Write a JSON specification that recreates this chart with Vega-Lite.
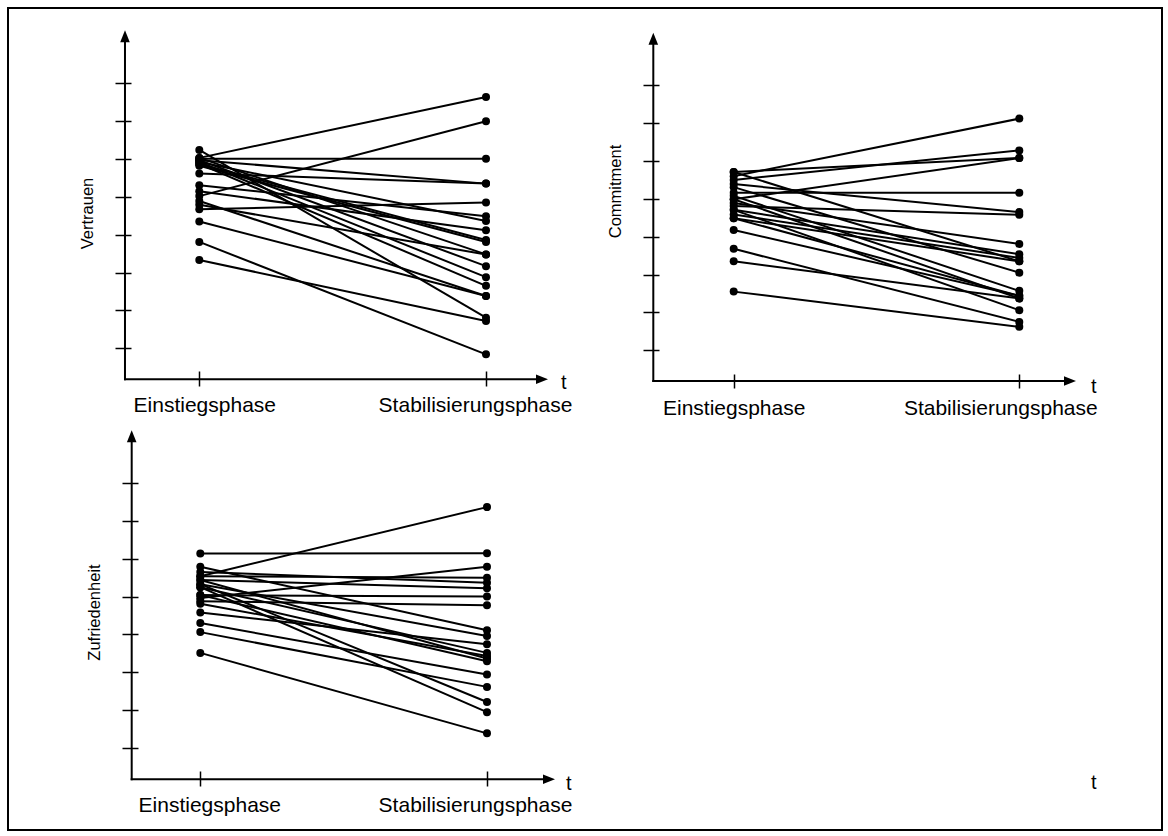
{
  "$schema": "https://vega.github.io/schema/vega-lite/v6.json",
  "padding": 6,
  "background": "white",
  "config": {"view": {"stroke": null}, "font": "Liberation Sans"},
  "datasets": {
    "vertrauen": [
      {"id":1,"phase":"Einstiegsphase","t":1,"value":6.03},{"id":1,"phase":"Stabilisierungsphase","t":2,"value":7.64},
      {"id":2,"phase":"Einstiegsphase","t":1,"value":5.02},{"id":2,"phase":"Stabilisierungsphase","t":2,"value":7.00},
      {"id":3,"phase":"Einstiegsphase","t":1,"value":6.01},{"id":3,"phase":"Stabilisierungsphase","t":2,"value":6.01},
      {"id":4,"phase":"Einstiegsphase","t":1,"value":5.97},{"id":4,"phase":"Stabilisierungsphase","t":2,"value":5.35},
      {"id":5,"phase":"Einstiegsphase","t":1,"value":5.62},{"id":5,"phase":"Stabilisierungsphase","t":2,"value":5.35},
      {"id":6,"phase":"Einstiegsphase","t":1,"value":4.67},{"id":6,"phase":"Stabilisierungsphase","t":2,"value":4.85},
      {"id":7,"phase":"Einstiegsphase","t":1,"value":5.31},{"id":7,"phase":"Stabilisierungsphase","t":2,"value":4.49},
      {"id":8,"phase":"Einstiegsphase","t":1,"value":5.92},{"id":8,"phase":"Stabilisierungsphase","t":2,"value":4.36},
      {"id":9,"phase":"Einstiegsphase","t":1,"value":5.15},{"id":9,"phase":"Stabilisierungsphase","t":2,"value":4.12},
      {"id":10,"phase":"Einstiegsphase","t":1,"value":5.87},{"id":10,"phase":"Stabilisierungsphase","t":2,"value":3.86},
      {"id":11,"phase":"Einstiegsphase","t":1,"value":5.82},{"id":11,"phase":"Stabilisierungsphase","t":2,"value":3.81},
      {"id":12,"phase":"Einstiegsphase","t":1,"value":6.03},{"id":12,"phase":"Stabilisierungsphase","t":2,"value":3.48},
      {"id":13,"phase":"Einstiegsphase","t":1,"value":5.97},{"id":13,"phase":"Stabilisierungsphase","t":2,"value":3.17},
      {"id":14,"phase":"Einstiegsphase","t":1,"value":5.92},{"id":14,"phase":"Stabilisierungsphase","t":2,"value":2.88},
      {"id":15,"phase":"Einstiegsphase","t":1,"value":5.87},{"id":15,"phase":"Stabilisierungsphase","t":2,"value":2.65},
      {"id":16,"phase":"Einstiegsphase","t":1,"value":4.89},{"id":16,"phase":"Stabilisierungsphase","t":2,"value":2.38},
      {"id":17,"phase":"Einstiegsphase","t":1,"value":4.35},{"id":17,"phase":"Stabilisierungsphase","t":2,"value":2.38},
      {"id":18,"phase":"Einstiegsphase","t":1,"value":6.24},{"id":18,"phase":"Stabilisierungsphase","t":2,"value":1.81},
      {"id":19,"phase":"Einstiegsphase","t":1,"value":3.33},{"id":19,"phase":"Stabilisierungsphase","t":2,"value":1.72},
      {"id":20,"phase":"Einstiegsphase","t":1,"value":3.81},{"id":20,"phase":"Stabilisierungsphase","t":2,"value":0.84},
      {"id":21,"phase":"Einstiegsphase","t":1,"value":4.79},{"id":21,"phase":"Stabilisierungsphase","t":2,"value":3.48}
    ],
    "commitment": [
      {"id":1,"phase":"Einstiegsphase","t":1,"value":5.60},{"id":1,"phase":"Stabilisierungsphase","t":2,"value":7.12},
      {"id":2,"phase":"Einstiegsphase","t":1,"value":5.50},{"id":2,"phase":"Stabilisierungsphase","t":2,"value":6.28},
      {"id":3,"phase":"Einstiegsphase","t":1,"value":5.71},{"id":3,"phase":"Stabilisierungsphase","t":2,"value":6.08},
      {"id":4,"phase":"Einstiegsphase","t":1,"value":4.99},{"id":4,"phase":"Stabilisierungsphase","t":2,"value":6.08},
      {"id":5,"phase":"Einstiegsphase","t":1,"value":5.16},{"id":5,"phase":"Stabilisierungsphase","t":2,"value":5.16},
      {"id":6,"phase":"Einstiegsphase","t":1,"value":5.39},{"id":6,"phase":"Stabilisierungsphase","t":2,"value":4.65},
      {"id":7,"phase":"Einstiegsphase","t":1,"value":4.81},{"id":7,"phase":"Stabilisierungsphase","t":2,"value":4.58},
      {"id":8,"phase":"Einstiegsphase","t":1,"value":4.89},{"id":8,"phase":"Stabilisierungsphase","t":2,"value":3.81},
      {"id":9,"phase":"Einstiegsphase","t":1,"value":4.71},{"id":9,"phase":"Stabilisierungsphase","t":2,"value":3.54},
      {"id":10,"phase":"Einstiegsphase","t":1,"value":4.59},{"id":10,"phase":"Stabilisierungsphase","t":2,"value":3.44},
      {"id":11,"phase":"Einstiegsphase","t":1,"value":5.71},{"id":11,"phase":"Stabilisierungsphase","t":2,"value":3.35},
      {"id":12,"phase":"Einstiegsphase","t":1,"value":5.31},{"id":12,"phase":"Stabilisierungsphase","t":2,"value":3.05},
      {"id":13,"phase":"Einstiegsphase","t":1,"value":4.49},{"id":13,"phase":"Stabilisierungsphase","t":2,"value":3.35},
      {"id":14,"phase":"Einstiegsphase","t":1,"value":5.08},{"id":14,"phase":"Stabilisierungsphase","t":2,"value":2.57},
      {"id":15,"phase":"Einstiegsphase","t":1,"value":4.49},{"id":15,"phase":"Stabilisierungsphase","t":2,"value":2.44},
      {"id":16,"phase":"Einstiegsphase","t":1,"value":3.35},{"id":16,"phase":"Stabilisierungsphase","t":2,"value":2.37},
      {"id":17,"phase":"Einstiegsphase","t":1,"value":4.71},{"id":17,"phase":"Stabilisierungsphase","t":2,"value":2.06},
      {"id":18,"phase":"Einstiegsphase","t":1,"value":3.68},{"id":18,"phase":"Stabilisierungsphase","t":2,"value":1.75},
      {"id":19,"phase":"Einstiegsphase","t":1,"value":2.55},{"id":19,"phase":"Stabilisierungsphase","t":2,"value":1.62},
      {"id":20,"phase":"Einstiegsphase","t":1,"value":4.18},{"id":20,"phase":"Stabilisierungsphase","t":2,"value":2.44},
      {"id":21,"phase":"Einstiegsphase","t":1,"value":4.99},{"id":21,"phase":"Stabilisierungsphase","t":2,"value":2.37}
    ],
    "zufriedenheit": [
      {"id":1,"phase":"Einstiegsphase","t":1,"value":6.14},{"id":1,"phase":"Stabilisierungsphase","t":2,"value":6.15},
      {"id":2,"phase":"Einstiegsphase","t":1,"value":5.54},{"id":2,"phase":"Stabilisierungsphase","t":2,"value":7.37},
      {"id":3,"phase":"Einstiegsphase","t":1,"value":4.96},{"id":3,"phase":"Stabilisierungsphase","t":2,"value":5.79},
      {"id":4,"phase":"Einstiegsphase","t":1,"value":5.54},{"id":4,"phase":"Stabilisierungsphase","t":2,"value":5.50},
      {"id":5,"phase":"Einstiegsphase","t":1,"value":5.65},{"id":5,"phase":"Stabilisierungsphase","t":2,"value":5.37},
      {"id":6,"phase":"Einstiegsphase","t":1,"value":5.44},{"id":6,"phase":"Stabilisierungsphase","t":2,"value":5.22},
      {"id":7,"phase":"Einstiegsphase","t":1,"value":5.04},{"id":7,"phase":"Stabilisierungsphase","t":2,"value":5.00},
      {"id":8,"phase":"Einstiegsphase","t":1,"value":4.88},{"id":8,"phase":"Stabilisierungsphase","t":2,"value":4.77},
      {"id":9,"phase":"Einstiegsphase","t":1,"value":5.79},{"id":9,"phase":"Stabilisierungsphase","t":2,"value":4.11},
      {"id":10,"phase":"Einstiegsphase","t":1,"value":5.33},{"id":10,"phase":"Stabilisierungsphase","t":2,"value":3.96},
      {"id":11,"phase":"Einstiegsphase","t":1,"value":4.58},{"id":11,"phase":"Stabilisierungsphase","t":2,"value":3.74},
      {"id":12,"phase":"Einstiegsphase","t":1,"value":5.25},{"id":12,"phase":"Stabilisierungsphase","t":2,"value":3.51},
      {"id":13,"phase":"Einstiegsphase","t":1,"value":4.81},{"id":13,"phase":"Stabilisierungsphase","t":2,"value":3.43},
      {"id":14,"phase":"Einstiegsphase","t":1,"value":5.44},{"id":14,"phase":"Stabilisierungsphase","t":2,"value":3.36},
      {"id":15,"phase":"Einstiegsphase","t":1,"value":5.04},{"id":15,"phase":"Stabilisierungsphase","t":2,"value":3.29},
      {"id":16,"phase":"Einstiegsphase","t":1,"value":4.30},{"id":16,"phase":"Stabilisierungsphase","t":2,"value":2.94},
      {"id":17,"phase":"Einstiegsphase","t":1,"value":4.06},{"id":17,"phase":"Stabilisierungsphase","t":2,"value":2.61},
      {"id":18,"phase":"Einstiegsphase","t":1,"value":5.33},{"id":18,"phase":"Stabilisierungsphase","t":2,"value":2.21},
      {"id":19,"phase":"Einstiegsphase","t":1,"value":5.25},{"id":19,"phase":"Stabilisierungsphase","t":2,"value":1.94},
      {"id":20,"phase":"Einstiegsphase","t":1,"value":3.51},{"id":20,"phase":"Stabilisierungsphase","t":2,"value":1.38}
    ]
  },
  "columns": 2,
  "spacing": 0,
  "bounds": "flush",
  "concat": [
    {
      "width": 583, "height": 411,
      "layer": [
        {"data": {"name": "vertrauen"}, "mark": {"type": "line", "color": "black", "strokeWidth": 2},
         "encoding": {
           "x": {"field": "t", "type": "quantitative", "scale": {"domain": [0.33275, 2.36624], "nice": false, "zero": false},
                 "axis": {"orient": "bottom", "values": [1, 2], "labelExpr": "datum.value == 1 ? 'Einstiegsphase' : 'Stabilisierungsphase'", "title": null, "domain": false, "grid": false, "tickSize": 15, "tickWidth": 1.5, "tickColor": "black", "offset": -48, "labelPadding": 8, "labelOffset": {"condition": {"test": "datum.value == 1", "value": 5}, "value": -11}, "labelFontSize": 21, "labelLimit": 500, "labelColor": "black", "labelFont": "Liberation Sans", "labelFlush": false, "labelOverlap": false, "labelBound": false}},
           "y": {"field": "value", "type": "quantitative", "scale": {"domain": [-0.8676, 9.9891], "nice": false, "zero": false},
                 "axis": {"orient": "left", "values": [1, 2, 3, 4, 5, 6, 7, 8], "labels": false, "title": "Vertrauen", "domain": false, "grid": false, "tickSize": 16, "tickWidth": 1.5, "tickColor": "black", "offset": -123, "titleX": -36, "titleY": 205, "titleFontSize": 16.5, "titleFontWeight": "normal", "titleColor": "black", "titleFont": "Liberation Sans"}},
           "detail": {"field": "id"}
         }},
        {"data": {"name": "vertrauen"}, "mark": {"type": "point", "filled": true, "color": "black", "opacity": 1, "size": 64},
         "encoding": {"x": {"field": "t", "type": "quantitative"}, "y": {"field": "value", "type": "quantitative"}}},
        {"data": {"values": [{}]}, "mark": {"type": "rule", "color": "black", "strokeWidth": 2, "strokeCap": "square"},
         "encoding": {"x": {"datum": 0.33275}, "x2": {"datum": 2.36624}, "y": {"datum": 9.9891}}},
        {"data": {"values": [{}]}, "mark": {"type": "rule", "color": "black", "strokeWidth": 2, "strokeCap": "square"},
         "encoding": {"x": {"datum": 0.33275}, "y": {"datum": -0.8676}, "y2": {"datum": 9.9891}}},
        {"data": {"values": [{}]}, "mark": {"type": "rule", "color": "black", "strokeWidth": 2, "strokeCap": "square"},
         "encoding": {"x": {"datum": 0.7408}, "y": {"datum": 0.1811}, "y2": {"datum": 9.24}}},
        {"data": {"values": [{}]}, "mark": {"type": "rule", "color": "black", "strokeWidth": 2, "strokeCap": "square"},
         "encoding": {"x": {"datum": 0.7408}, "x2": {"datum": 2.1954}, "y": {"datum": 0.1811}}},
        {"data": {"values": [{}]}, "mark": {"type": "point", "shape": "M0,0L-0.4,1L0.4,1Z", "filled": true, "color": "black", "opacity": 1, "size": 576},
         "encoding": {"x": {"datum": 0.7408}, "y": {"datum": 9.40}}},
        {"data": {"values": [{}]}, "mark": {"type": "point", "shape": "M0,0L-1,-0.4L-1,0.4Z", "filled": true, "color": "black", "opacity": 1, "size": 576},
         "encoding": {"x": {"datum": 2.2163}, "y": {"datum": 0.1811}}},
        {"data": {"values": [{}]}, "mark": {"type": "text", "text": "t", "align": "left", "baseline": "alphabetic", "dx": 13, "dy": 10, "fontSize": 20, "color": "black"},
         "encoding": {"x": {"datum": 2.2163}, "y": {"datum": 0.1811}}}
      ]
    },
    {
      "width": 571, "height": 411,
      "layer": [
        {"data": {"name": "commitment"}, "mark": {"type": "line", "color": "black", "strokeWidth": 2},
         "encoding": {
           "x": {"field": "t", "type": "quantitative", "scale": {"domain": [0.50035, 2.49965], "nice": false, "zero": false},
                 "axis": {"orient": "bottom", "values": [1, 2], "labelExpr": "datum.value == 1 ? 'Einstiegsphase' : 'Stabilisierungsphase'", "title": null, "domain": false, "grid": false, "tickSize": 14, "tickWidth": 1.5, "tickColor": "black", "offset": -45, "labelPadding": 9, "labelOffset": {"condition": {"test": "datum.value == 1", "value": 0}, "value": -19}, "labelFontSize": 21, "labelLimit": 500, "labelColor": "black", "labelFont": "Liberation Sans", "labelFlush": false, "labelOverlap": false, "labelBound": false}},
           "y": {"field": "value", "type": "quantitative", "scale": {"domain": [-0.8147, 10.0419], "nice": false, "zero": false},
                 "axis": {"orient": "left", "values": [1, 2, 3, 4, 5, 6, 7, 8], "labels": false, "title": "Commitment", "domain": false, "grid": false, "tickSize": 16, "tickWidth": 1.5, "tickColor": "black", "offset": -68, "titleX": -36, "titleY": 183, "titleFontSize": 16.5, "titleFontWeight": "normal", "titleColor": "black", "titleFont": "Liberation Sans"}},
           "detail": {"field": "id"}
         }},
        {"data": {"name": "commitment"}, "mark": {"type": "point", "filled": true, "color": "black", "opacity": 1, "size": 64},
         "encoding": {"x": {"field": "t", "type": "quantitative"}, "y": {"field": "value", "type": "quantitative"}}},
        {"data": {"values": [{}]}, "mark": {"type": "rule", "color": "black", "strokeWidth": 2, "strokeCap": "square"},
         "encoding": {"x": {"datum": 0.50035}, "x2": {"datum": 2.49965}, "y": {"datum": 10.0419}}},
        {"data": {"values": [{}]}, "mark": {"type": "rule", "color": "black", "strokeWidth": 2, "strokeCap": "square"},
         "encoding": {"x": {"datum": 2.49965}, "y": {"datum": -0.8147}, "y2": {"datum": 10.0419}}},
        {"data": {"values": [{}]}, "mark": {"type": "rule", "color": "black", "strokeWidth": 2, "strokeCap": "square"},
         "encoding": {"x": {"datum": 0.7185}, "y": {"datum": 0.189}, "y2": {"datum": 9.23}}},
        {"data": {"values": [{}]}, "mark": {"type": "rule", "color": "black", "strokeWidth": 2, "strokeCap": "square"},
         "encoding": {"x": {"datum": 0.7185}, "x2": {"datum": 2.1775}, "y": {"datum": 0.189}}},
        {"data": {"values": [{}]}, "mark": {"type": "point", "shape": "M0,0L-0.4,1L0.4,1Z", "filled": true, "color": "black", "opacity": 1, "size": 576},
         "encoding": {"x": {"datum": 0.7185}, "y": {"datum": 9.389}}},
        {"data": {"values": [{}]}, "mark": {"type": "point", "shape": "M0,0L-1,-0.4L-1,0.4Z", "filled": true, "color": "black", "opacity": 1, "size": 576},
         "encoding": {"x": {"datum": 2.1985}, "y": {"datum": 0.189}}},
        {"data": {"values": [{}]}, "mark": {"type": "text", "text": "t", "align": "left", "baseline": "alphabetic", "dx": 15, "dy": 11.5, "fontSize": 20, "color": "black"},
         "encoding": {"x": {"datum": 2.1985}, "y": {"datum": 0.189}}}
      ]
    },
    {
      "width": 583, "height": 411,
      "layer": [
        {"data": {"name": "zufriedenheit"}, "mark": {"type": "line", "color": "black", "strokeWidth": 2},
         "encoding": {
           "x": {"field": "t", "type": "quantitative", "scale": {"domain": [0.32926, 2.36275], "nice": false, "zero": false},
                 "axis": {"orient": "bottom", "values": [1, 2], "labelExpr": "datum.value == 1 ? 'Einstiegsphase' : 'Stabilisierungsphase'", "title": null, "domain": false, "grid": false, "tickSize": 15, "tickWidth": 1.5, "tickColor": "black", "offset": -59, "labelPadding": 8, "labelOffset": {"condition": {"test": "datum.value == 1", "value": 9}, "value": -12}, "labelFontSize": 21, "labelLimit": 500, "labelColor": "black", "labelFont": "Liberation Sans", "labelFlush": false, "labelOverlap": false, "labelBound": false}},
           "y": {"field": "value", "type": "quantitative", "scale": {"domain": [-1.1789, 9.7024], "nice": false, "zero": false},
                 "axis": {"orient": "left", "values": [1, 2, 3, 4, 5, 6, 7, 8], "labels": false, "title": "Zufriedenheit", "domain": false, "grid": false, "tickSize": 16, "tickWidth": 1.5, "tickColor": "black", "offset": -130, "titleX": -36, "titleY": 193, "titleFontSize": 16.5, "titleFontWeight": "normal", "titleColor": "black", "titleFont": "Liberation Sans"}},
           "detail": {"field": "id"}
         }},
        {"data": {"name": "zufriedenheit"}, "mark": {"type": "point", "filled": true, "color": "black", "opacity": 1, "size": 64},
         "encoding": {"x": {"field": "t", "type": "quantitative"}, "y": {"field": "value", "type": "quantitative"}}},
        {"data": {"values": [{}]}, "mark": {"type": "rule", "color": "black", "strokeWidth": 2, "strokeCap": "square"},
         "encoding": {"x": {"datum": 0.32926}, "x2": {"datum": 2.36275}, "y": {"datum": -1.1789}}},
        {"data": {"values": [{}]}, "mark": {"type": "rule", "color": "black", "strokeWidth": 2, "strokeCap": "square"},
         "encoding": {"x": {"datum": 0.32926}, "y": {"datum": -1.1789}, "y2": {"datum": 9.7024}}},
        {"data": {"values": [{}]}, "mark": {"type": "rule", "color": "black", "strokeWidth": 2, "strokeCap": "square"},
         "encoding": {"x": {"datum": 0.7607}, "y": {"datum": 0.1634}, "y2": {"datum": 9.244}}},
        {"data": {"values": [{}]}, "mark": {"type": "rule", "color": "black", "strokeWidth": 2, "strokeCap": "square"},
         "encoding": {"x": {"datum": 0.7607}, "x2": {"datum": 2.2163}, "y": {"datum": 0.1634}}},
        {"data": {"values": [{}]}, "mark": {"type": "point", "shape": "M0,0L-0.4,1L0.4,1Z", "filled": true, "color": "black", "opacity": 1, "size": 576},
         "encoding": {"x": {"datum": 0.7607}, "y": {"datum": 9.403}}},
        {"data": {"values": [{}]}, "mark": {"type": "point", "shape": "M0,0L-1,-0.4L-1,0.4Z", "filled": true, "color": "black", "opacity": 1, "size": 576},
         "encoding": {"x": {"datum": 2.2372}, "y": {"datum": 0.1634}}},
        {"data": {"values": [{}]}, "mark": {"type": "text", "text": "t", "align": "left", "baseline": "alphabetic", "dx": 11, "dy": 11, "fontSize": 20, "color": "black"},
         "encoding": {"x": {"datum": 2.2372}, "y": {"datum": 0.1634}}}
      ]
    },
    {
      "width": 571, "height": 411,
      "layer": [
        {"data": {"values": [{}]}, "mark": {"type": "rule", "color": "black", "strokeWidth": 2, "strokeCap": "square"},
         "encoding": {"x": {"datum": 0.50035, "axis": null, "scale": {"domain": [0.50035, 2.49965], "nice": false, "zero": false}}, "x2": {"datum": 2.49965}, "y": {"datum": -1.1789, "axis": null, "scale": {"domain": [-1.1789, 9.7024], "nice": false, "zero": false}}}},
        {"data": {"values": [{}]}, "mark": {"type": "rule", "color": "black", "strokeWidth": 2, "strokeCap": "square"},
         "encoding": {"x": {"datum": 2.49965, "axis": null}, "y": {"datum": -1.1789, "axis": null}, "y2": {"datum": 9.7024}}},
        {"data": {"values": [{}]}, "mark": {"type": "text", "text": "t", "align": "left", "baseline": "alphabetic", "dx": 15, "dy": 10, "fontSize": 20, "color": "black"},
         "encoding": {"x": {"datum": 2.1985, "axis": null}, "y": {"datum": 0.1634, "axis": null}}}
      ]
    }
  ]
}
